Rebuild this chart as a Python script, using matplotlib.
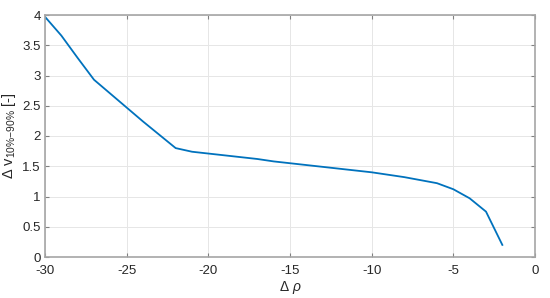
import matplotlib
matplotlib.use("Agg")
import matplotlib.pyplot as plt

# values
delta_rho = [-30, -29, -28, -27, -26, -25, -24, -23, -22, -21, -20, -19, -18,
             -17, -16, -15, -14, -13, -12, -11, -10, -9, -8, -7, -6, -5, -4,
             -3, -2]
delta_v = [3.97, 3.66, 3.29, 2.93, 2.70, 2.47, 2.24, 2.02, 1.80, 1.74, 1.71,
           1.68, 1.65, 1.62, 1.58, 1.55, 1.52, 1.49, 1.46, 1.43, 1.40, 1.36,
           1.32, 1.27, 1.22, 1.12, 0.97, 0.75, 0.20]

x_ticks = [-30, -25, -20, -15, -10, -5, 0]
y_ticks = [0, 0.5, 1, 1.5, 2, 2.5, 3, 3.5, 4]

plt.rcParams['font.family'] = ['Liberation Sans', 'DejaVu Sans']
plt.rcParams['mathtext.fontset'] = 'custom'
plt.rcParams['mathtext.rm'] = 'Liberation Sans'
plt.rcParams['mathtext.it'] = 'Liberation Sans:italic'

fig = plt.figure(figsize=(5.5, 2.98), dpi=100)
ax = fig.add_axes([45 / 550, 1 - 257 / 298, 490 / 550, 242 / 298])

ax.plot(delta_rho, delta_v, color='#0072BD', lw=1.3)

ax.set_xlim(-30, 0)
ax.set_ylim(0, 4)
ax.set_xticks(x_ticks)
ax.set_xticklabels([str(t) for t in x_ticks])
ax.set_yticks(y_ticks)
ax.set_yticklabels(['0', '0.5', '1', '1.5', '2', '2.5', '3', '3.5', '4'])

ax.grid(True, color='#E6E6E6', lw=0.7)
ax.set_axisbelow(True)
for s in ax.spines.values():
    s.set_color('#A6A6A6')
    s.set_linewidth(1.2)
ax.tick_params(direction='in', length=3, width=0.8, color='#808080',
               labelsize=9.5, labelcolor='#262626', top=True, right=True)
ax.tick_params(axis='x', pad=6)
ax.tick_params(axis='y', pad=3)

ax.set_xlabel(r'$\Delta$ $\it{\rho}$', fontsize=10, color='#262626', labelpad=1)
ax.set_ylabel(r'$\Delta$ v$_{10\%\mathrm{-}90\%}$ [-]', fontsize=10.5,
              color='#262626', labelpad=3)

fig.savefig('out.png', dpi=100)
